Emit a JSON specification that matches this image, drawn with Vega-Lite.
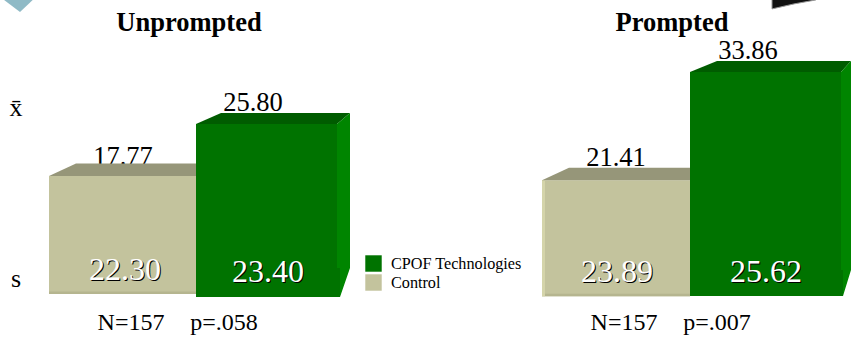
{
"$schema":"https://vega.github.io/schema/vega-lite/v6.json",
"width":851,"height":339,"padding":0,"autosize":{"type":"none"},"background":"#ffffff",
"view":{"stroke":null},
"config":{"font":"Liberation Serif"},
"datasets":{
"bars":[
{"group":"Unprompted","series":"Control","mean":17.77,"s":22.30,"barValue":18.14,"base":0.3},
{"group":"Unprompted","series":"CPOF Technologies","mean":25.80,"s":23.40,"barValue":26.0,"base":-0.15},
{"group":"Prompted","series":"Control","mean":21.41,"s":23.89,"barValue":17.5,"base":-0.05},
{"group":"Prompted","series":"CPOF Technologies","mean":33.86,"s":25.62,"barValue":33.86,"base":0}
],
"groups":[
{"group":"Unprompted","series":"Control","title":"Unprompted","N":"N=157"},
{"group":"Prompted","series":"Control","title":"Prompted","N":"N=157"}
],
"pvals":[
{"group":"Unprompted","series":"CPOF Technologies","p":"p=.058"},
{"group":"Prompted","series":"CPOF Technologies","p":"p=.007"}
]
},
"data":{"name":"bars"},
"encoding":{
"x":{"field":"group","type":"nominal","axis":null,"sort":["Unprompted","Prompted"],"scale":{"domain":["Unprompted","Prompted"],"range":[49,1035],"paddingInner":0,"paddingOuter":0}},
"xOffset":{"field":"series","type":"nominal","sort":["Control","CPOF Technologies"],"scale":{"domain":["Control","CPOF Technologies"],"range":[0,296],"paddingInner":0,"paddingOuter":0}}
},
"layer":[
{"transform":[{"filter":"datum.series==='Control'"}],
 "mark":{"type":"bar","strokeWidth":0},
 "encoding":{"y":{"field":"barValue","type":"quantitative","axis":null,"scale":{"domain":[0,33.86],"range":[296,72],"clamp":false,"nice":false,"zero":false}},"y2":{"field":"base"},
 "color":{"field":"series","type":"nominal","scale":{"domain":["CPOF Technologies","Control"],"range":["#007300","#c3c39d"]},
 "legend":{"orient":"none","legendX":365,"legendY":255,"title":null,"symbolType":"square","symbolSize":270,"symbolStrokeWidth":0,"labelFont":"Liberation Serif","labelFontSize":16.2,"labelColor":"#000000","rowPadding":2,"labelOffset":9}}}},
{"transform":[{"filter":"datum.series==='Control'"}],
 "mark":{"type":"point","filled":true,"opacity":1,"size":4,"color":"#b5b58f","shape":"M-74,-2.5L74,-2.5L74,0L-74,0Z"},
 "encoding":{"y":{"field":"base","type":"quantitative"}}},
{"transform":[{"filter":"datum.series==='Control'&&datum.group==='Prompted'"}],
 "mark":{"type":"point","filled":true,"opacity":1,"size":4,"color":"#d4d4aa","shape":"M-74,0L-71,0L-71,116L-74,116Z"},
 "encoding":{"y":{"field":"barValue","type":"quantitative"}}},
{"mark":{"type":"text","font":"Liberation Serif","fontSize":26.5,"color":"#000000","baseline":"alphabetic","dy":{"expr":"datum.mean===17.77?-11:datum.mean===21.41?-14:-13"},"dx":{"expr":"datum.mean===17.77||datum.mean===21.41?0:datum.mean===25.8?-18:-16"}},
 "encoding":{"y":{"field":"barValue","type":"quantitative"},"text":{"field":"mean","type":"quantitative","format":".2f"}}},
{"transform":[{"filter":"datum.series==='Control'"}],
 "mark":{"type":"point","filled":true,"opacity":1,"size":4,"color":"#969679","shape":"M-74,0L-47,-12.5L74,-12.5L74,0Z"},
 "encoding":{"y":{"field":"barValue","type":"quantitative"}}},
{"transform":[{"filter":"datum.series==='CPOF Technologies'&&datum.group==='Unprompted'"}],
 "mark":{"type":"bar","width":138,"color":"#007300"},
 "encoding":{"y":{"field":"barValue","type":"quantitative"},"y2":{"field":"base"}}},
{"transform":[{"filter":"datum.series==='CPOF Technologies'&&datum.group==='Prompted'"}],
 "mark":{"type":"bar","color":"#007300"},
 "encoding":{"y":{"field":"barValue","type":"quantitative"},"y2":{"field":"base"}}},
{"transform":[{"filter":"datum.series==='CPOF Technologies'&&datum.group==='Unprompted'"}],
 "mark":{"type":"point","filled":true,"opacity":1,"size":4,"color":"#007300","shape":"M-75,0L-68,0L-68,173L-75,173Z"},
 "encoding":{"y":{"field":"barValue","type":"quantitative"}}},
{"transform":[{"filter":"datum.series==='CPOF Technologies'&&datum.group==='Prompted'"}],
 "mark":{"type":"point","filled":true,"opacity":1,"size":4,"color":"#007300","shape":"M73,0L79,0L79,224L73,224Z"},
 "encoding":{"y":{"field":"barValue","type":"quantitative"}}},
{"transform":[{"filter":"datum.series==='CPOF Technologies'&&datum.group==='Unprompted'"}],
 "mark":{"type":"point","filled":true,"opacity":1,"size":4,"color":"#005c00","shape":"M-75,0L-50,-11L79,-11L66,0Z"},
 "encoding":{"y":{"field":"barValue","type":"quantitative"}}},
{"transform":[{"filter":"datum.series==='CPOF Technologies'&&datum.group==='Unprompted'"}],
 "mark":{"type":"point","filled":true,"opacity":1,"size":4,"color":"#008500","shape":"M66,0L79,-11L79,144L69,173L69,144L66,144Z"},
 "encoding":{"y":{"field":"barValue","type":"quantitative"}}},
{"transform":[{"filter":"datum.series==='CPOF Technologies'&&datum.group==='Prompted'"}],
 "mark":{"type":"point","filled":true,"opacity":1,"size":4,"color":"#005c00","shape":"M-74,0L-47,-11L87,-11L77,0Z"},
 "encoding":{"y":{"field":"barValue","type":"quantitative"}}},
{"transform":[{"filter":"datum.series==='CPOF Technologies'&&datum.group==='Prompted'"}],
 "mark":{"type":"point","filled":true,"opacity":1,"size":4,"color":"#008500","shape":"M77,0L87,-11L87,198L79,224L79,198L77,198Z"},
 "encoding":{"y":{"field":"barValue","type":"quantitative"}}},
{"mark":{"type":"text","font":"Liberation Serif","fontSize":32,"color":"#000000","baseline":"middle","dx":{"expr":"(datum.s===22.3?2:datum.s===23.89?1:datum.s===23.4?-3:2)+1"},"dy":{"expr":"(datum.s===22.3?-2:0)+1"}},
 "encoding":{"y":{"datum":3.6},"text":{"field":"s","type":"quantitative","format":".2f"}}},
{"mark":{"type":"text","font":"Liberation Serif","fontSize":32,"color":"#ffffff","baseline":"middle","dx":{"expr":"(datum.s===22.3?2:datum.s===23.89?1:datum.s===23.4?-3:2)"},"dy":{"expr":"(datum.s===22.3?-2:0)"}},
 "encoding":{"y":{"datum":3.6},"text":{"field":"s","type":"quantitative","format":".2f"}}},
{"data":{"name":"groups"},
 "mark":{"type":"text","font":"Liberation Serif","fontSize":26.5,"fontWeight":"bold","color":"#000000","baseline":"middle","dx":{"expr":"datum.group==='Unprompted'?66:56"}},
 "encoding":{"y":{"datum":41.3},"text":{"field":"title"}}},
{"data":{"name":"groups"},
 "mark":{"type":"text","font":"Liberation Serif","fontSize":24,"color":"#000000","baseline":"middle","dx":8},
 "encoding":{"y":{"datum":-4.05},"text":{"field":"N"}}},
{"data":{"name":"pvals"},
 "mark":{"type":"text","font":"Liberation Serif","fontSize":24,"color":"#000000","baseline":"middle","dx":-47},
 "encoding":{"y":{"datum":-4.05},"text":{"field":"p"}}},
{"data":{"values":[{"group":"Unprompted","series":"Control","label":"x̄","v":28.4},{"group":"Unprompted","series":"Control","label":"s","v":2.5}]},
 "mark":{"type":"text","font":"Liberation Serif","fontSize":26,"color":"#000000","baseline":"middle","dx":-107},
 "encoding":{"y":{"field":"v","type":"quantitative"},"text":{"field":"label"}}},
{"data":{"values":[{"group":"Unprompted","series":"Control"}]},
 "mark":{"type":"point","filled":true,"opacity":1,"size":4,"color":"#8fbac6","shape":"M-123,-8L-103,7L-87,-8Z"},
 "encoding":{"y":{"datum":44}}},
{"data":{"values":[{"group":"Prompted","series":"CPOF Technologies"}]},
 "mark":{"type":"point","filled":true,"opacity":1,"size":4,"color":"#111111","stroke":"#999999","strokeWidth":1,"shape":"M8,-8L8,4L30,-1L52,-5L52,-8Z"},
 "encoding":{"y":{"datum":44}}}
]
}
